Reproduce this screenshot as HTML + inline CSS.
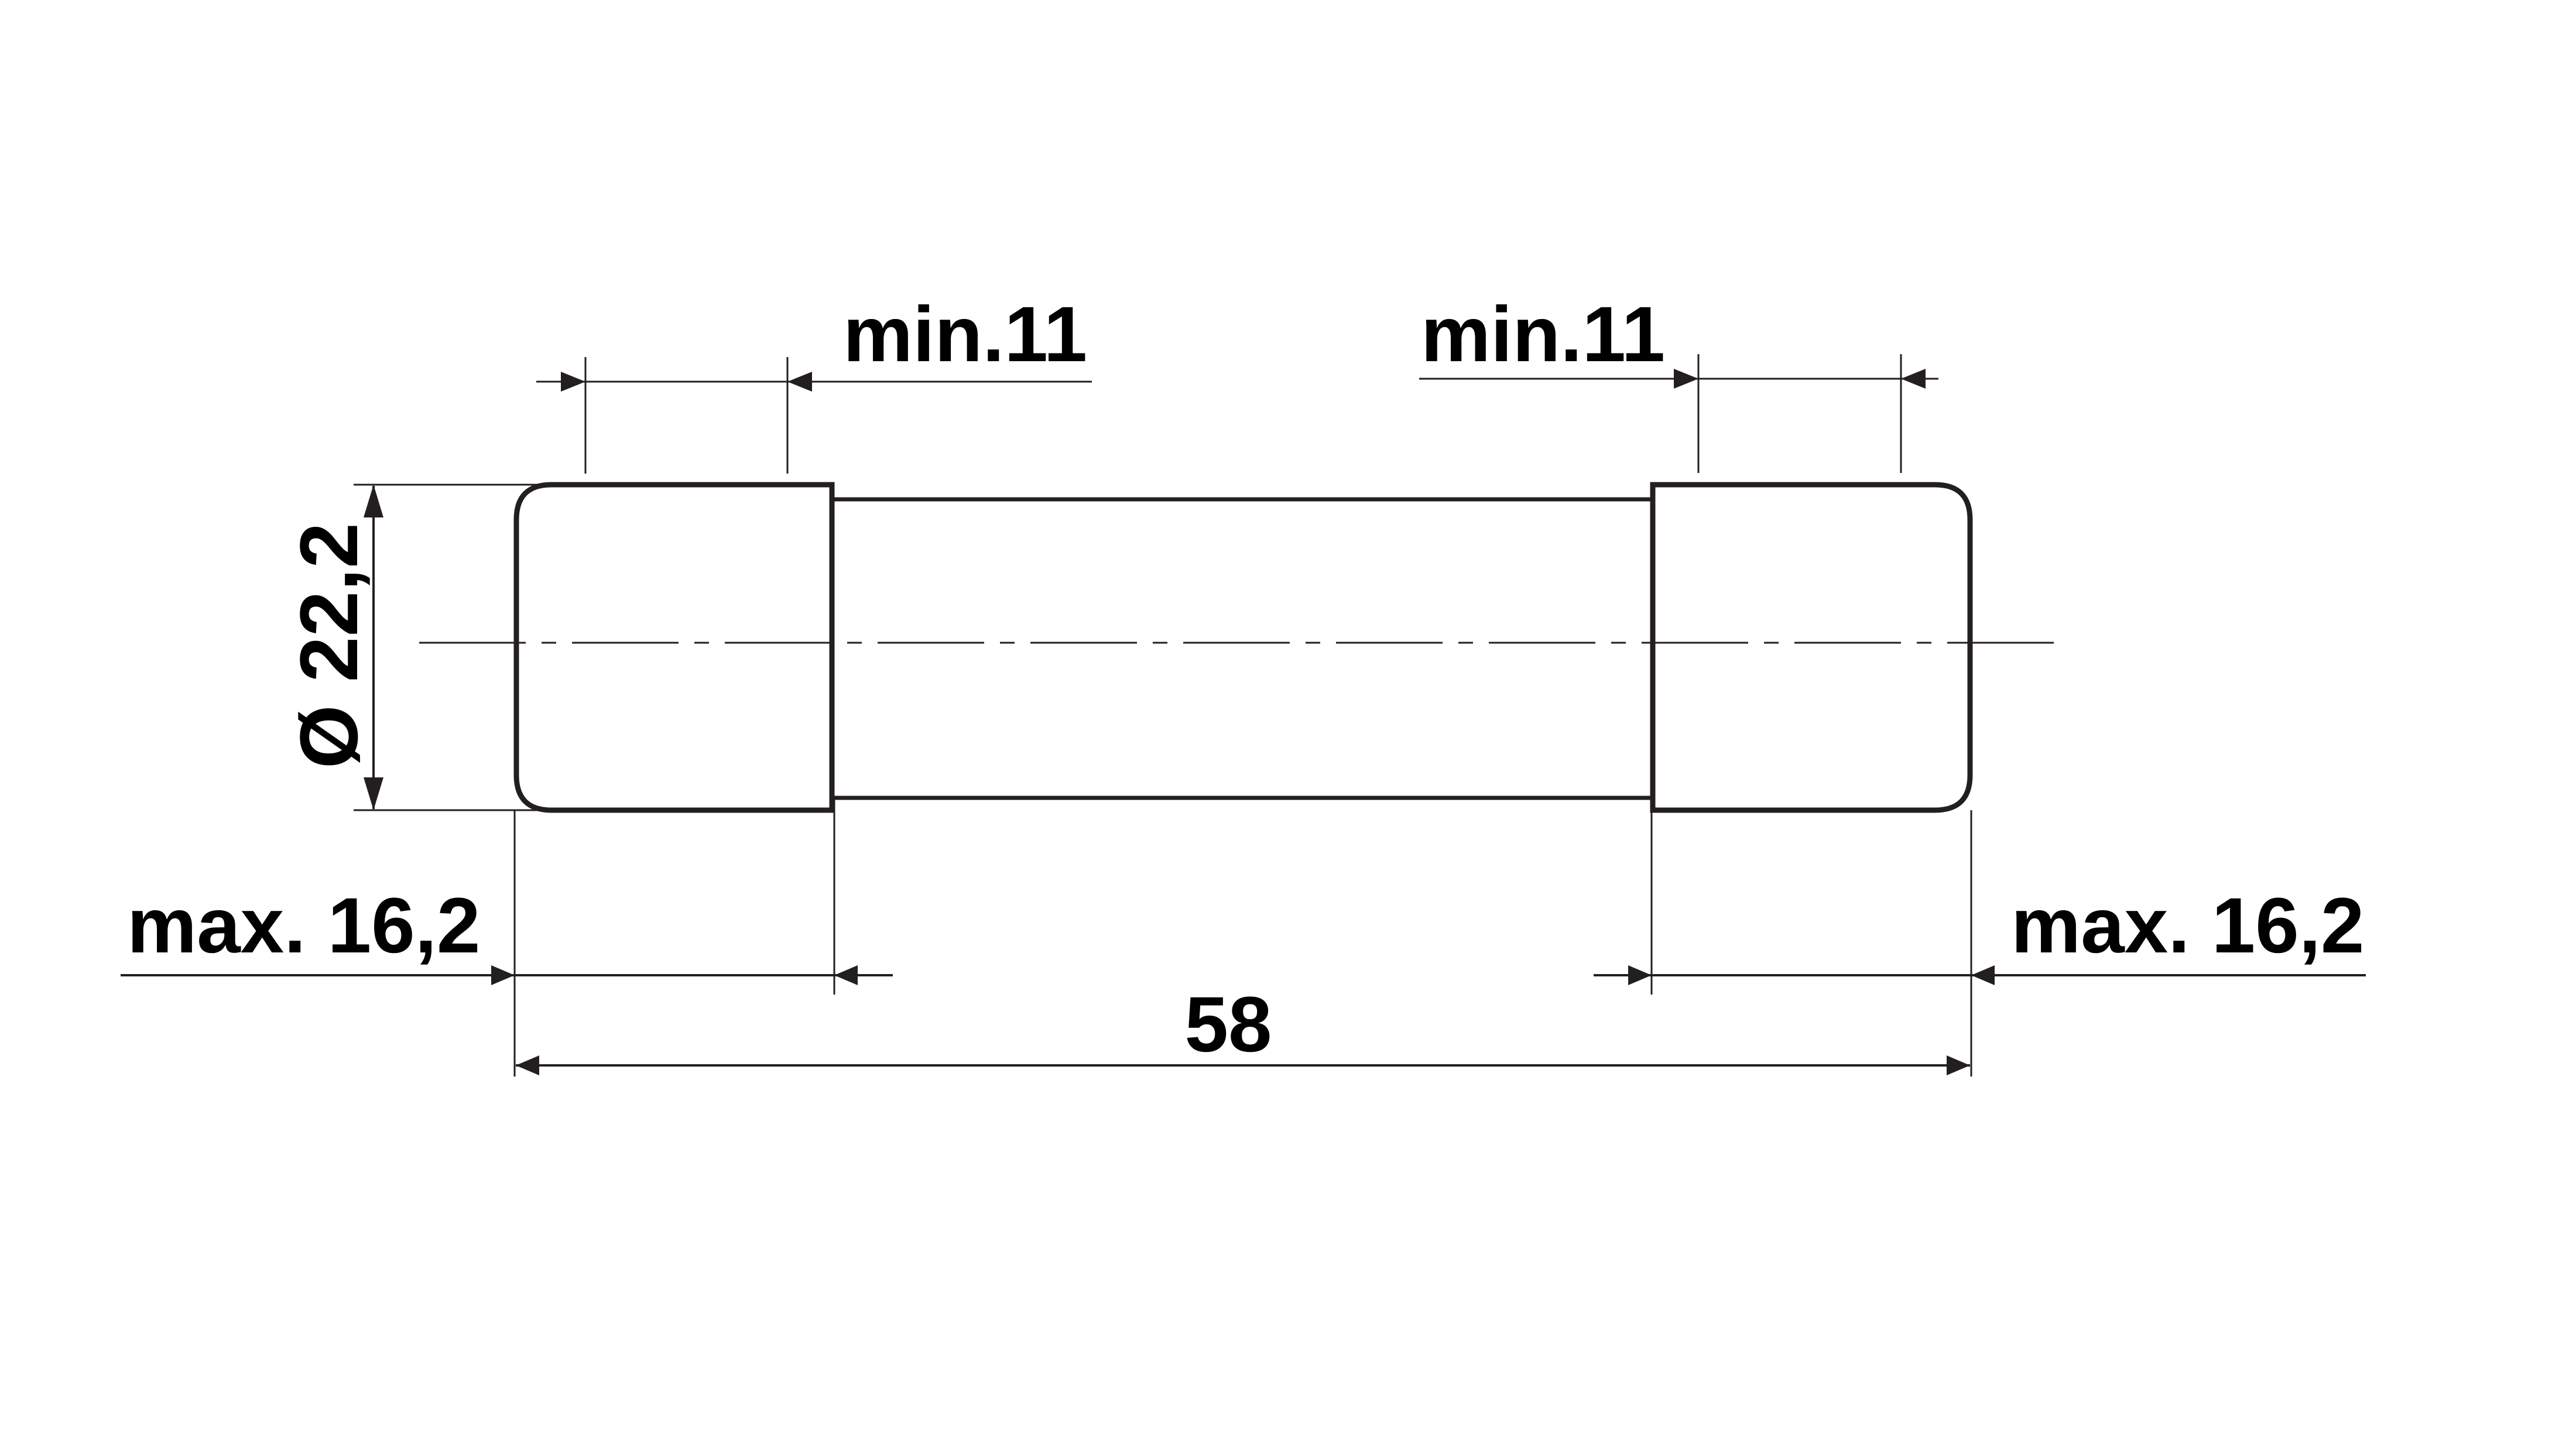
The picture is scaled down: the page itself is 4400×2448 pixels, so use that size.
<!DOCTYPE html>
<html><head><meta charset="utf-8"><style>
html,body{margin:0;padding:0;background:#fff;}
svg{display:block;}
text{font-family:"Liberation Sans",Arial,sans-serif;font-weight:bold;fill:#000;}
</style></head><body>
<svg width="4400" height="2448" viewBox="0 0 4400 2448" xmlns="http://www.w3.org/2000/svg">
<g stroke="#231f20" fill="none">
<rect x="1421" y="853" width="1402" height="510" stroke-width="7"/>
<path d="M1421 828 H942 Q882 828 882 888 V1324 Q882 1384 942 1384 H1421 Z" stroke-width="9" fill="#fff"/>
<path d="M2823 828 H3305 Q3365 828 3365 888 V1324 Q3365 1384 3305 1384 H2823 Z" stroke-width="9" fill="#fff"/>
<line x1="716" y1="1098" x2="3508" y2="1098" stroke-width="3" stroke-dasharray="182 27 25 27"/>
<line x1="604" y1="828" x2="940" y2="828" stroke-width="3"/>
<line x1="604" y1="1384" x2="940" y2="1384" stroke-width="3"/>
<line x1="638" y1="830" x2="638" y2="1382" stroke-width="4"/>
<line x1="916" y1="652" x2="1865" y2="652" stroke-width="3"/>
<line x1="1000" y1="610" x2="1000" y2="809" stroke-width="3"/>
<line x1="1345" y1="610" x2="1345" y2="809" stroke-width="3"/>
<line x1="2424" y1="647" x2="3311" y2="647" stroke-width="3"/>
<line x1="2901" y1="605" x2="2901" y2="808" stroke-width="3"/>
<line x1="3247" y1="605" x2="3247" y2="808" stroke-width="3"/>
<line x1="879" y1="1384" x2="879" y2="1839" stroke-width="3"/>
<line x1="1425" y1="1363" x2="1425" y2="1699" stroke-width="3"/>
<line x1="2821" y1="1363" x2="2821" y2="1699" stroke-width="3"/>
<line x1="3367" y1="1384" x2="3367" y2="1839" stroke-width="3"/>
<line x1="206" y1="1666" x2="1525" y2="1666" stroke-width="4"/>
<line x1="2722" y1="1666" x2="4041" y2="1666" stroke-width="4"/>
<line x1="881" y1="1820" x2="3365" y2="1820" stroke-width="4"/>
</g>
<g fill="#231f20">
<polygon points="638,828 621,884 655,884"/>
<polygon points="638,1384 621,1328 655,1328"/>
<polygon points="1000,652 958,635 958,669"/>
<polygon points="1345,652 1387,635 1387,669"/>
<polygon points="2901,647 2859,630 2859,664"/>
<polygon points="3247,647 3289,630 3289,664"/>
<polygon points="879,1666 839,1649 839,1683"/>
<polygon points="1425,1666 1465,1649 1465,1683"/>
<polygon points="2821,1666 2781,1649 2781,1683"/>
<polygon points="3367,1666 3407,1649 3407,1683"/>
<polygon points="881,1820 921,1803 921,1837"/>
<polygon points="3365,1820 3325,1803 3325,1837"/>
</g>
<text x="1440" y="617" font-size="134">min.11</text>
<text x="2427" y="617" font-size="134">min.11</text>
<text x="217" y="1627" font-size="134">max. 16,2</text>
<text x="3435" y="1627" font-size="134">max. 16,2</text>
<text x="2098" y="1796" font-size="134" text-anchor="middle">58</text>
<text x="0" y="0" font-size="140" text-anchor="middle" transform="translate(610,1103) rotate(-90)">Ø 22,2</text>
</svg>
</body></html>
